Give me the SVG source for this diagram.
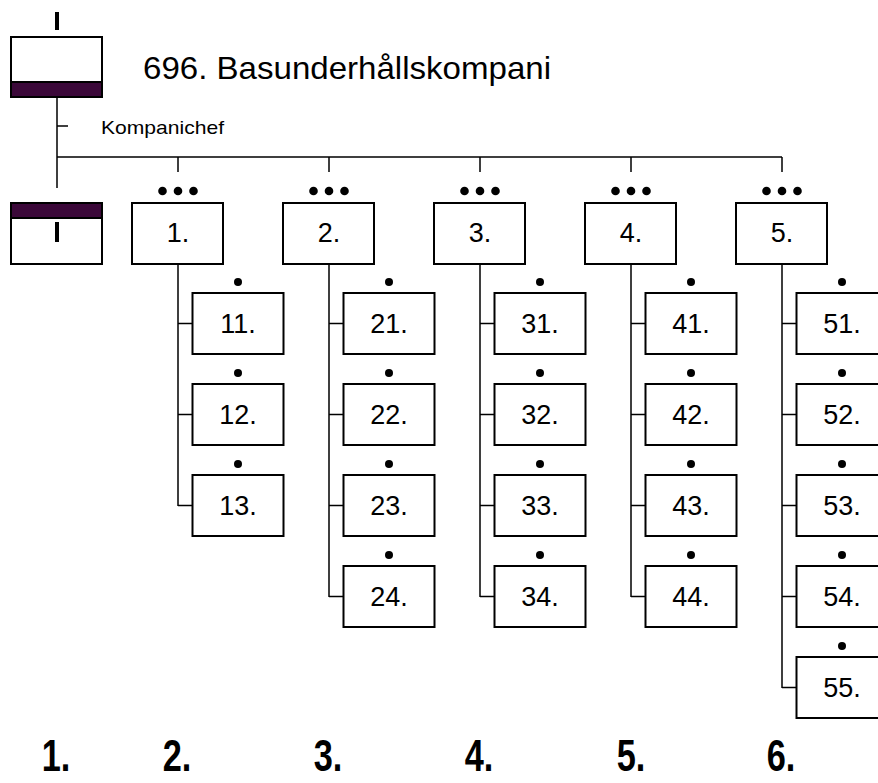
<svg xmlns="http://www.w3.org/2000/svg" width="878" height="783" viewBox="0 0 878 783">
<style>
.box{fill:#fff;stroke:#000;stroke-width:2}
.band{fill:#3b0839;stroke:#000;stroke-width:2}
.ln{stroke:#000;stroke-width:1.5;fill:none}
.lbl{font-family:"Liberation Sans",Arial,sans-serif;font-size:27px;text-anchor:middle;fill:#000}
.big{font-family:"Liberation Sans",Arial,sans-serif;font-weight:bold;font-size:44px;text-anchor:middle;fill:#000}
.dot{fill:#000}
</style>
<rect width="878" height="783" fill="#fff"/>
<g id="connectors">
<path class="ln" d="M57 97V188M57 126H68M57 157H782M178 157V172M329 157V172M480 157V172M631 157V172M782 157V172"/>
<path class="ln" d="M178 264V506M178 323.5H192.5M178 414.5H192.5M178 505.5H192.5"/>
<path class="ln" d="M329 264V597M329 323.5H343.5M329 414.5H343.5M329 505.5H343.5M329 596.5H343.5"/>
<path class="ln" d="M480 264V597M480 323.5H494.5M480 414.5H494.5M480 505.5H494.5M480 596.5H494.5"/>
<path class="ln" d="M631 264V597M631 323.5H645.5M631 414.5H645.5M631 505.5H645.5M631 596.5H645.5"/>
<path class="ln" d="M782 264V688M782 323.5H796.5M782 414.5H796.5M782 505.5H796.5M782 596.5H796.5M782 687.5H796.5"/>
</g>
<g id="hq">
<rect x="55" y="12" width="4" height="18" fill="#000"/>
<rect class="box" x="11" y="37" width="91" height="60"/>
<rect class="band" x="11" y="82" width="91" height="15"/>
<text x="143" y="79" font-family="Liberation Sans,Arial,sans-serif" font-size="32" textLength="408" lengthAdjust="spacingAndGlyphs">696. Basunderhållskompani</text>
<text x="101" y="134" font-family="Liberation Sans,Arial,sans-serif" font-size="19" textLength="123" lengthAdjust="spacingAndGlyphs">Kompanichef</text>
</g>
<g id="stab">
<rect class="box" x="11" y="203" width="91" height="61"/>
<rect class="band" x="11" y="203" width="91" height="15"/>
<rect x="55" y="222" width="4" height="20" fill="#000"/>
</g>
<g id="pl1">
<circle class="dot" cx="162.5" cy="191" r="4.3"/><circle class="dot" cx="178" cy="191" r="4.3"/><circle class="dot" cx="193.5" cy="191" r="4.3"/>
<rect class="box" x="132" y="203" width="91" height="61"/><text class="lbl" x="178" y="242">1.</text>
</g>
<g id="pl2">
<circle class="dot" cx="313.5" cy="191" r="4.3"/><circle class="dot" cx="329" cy="191" r="4.3"/><circle class="dot" cx="344.5" cy="191" r="4.3"/>
<rect class="box" x="283" y="203" width="91" height="61"/><text class="lbl" x="329" y="242">2.</text>
</g>
<g id="pl3">
<circle class="dot" cx="464.5" cy="191" r="4.3"/><circle class="dot" cx="480" cy="191" r="4.3"/><circle class="dot" cx="495.5" cy="191" r="4.3"/>
<rect class="box" x="434" y="203" width="91" height="61"/><text class="lbl" x="480" y="242">3.</text>
</g>
<g id="pl4">
<circle class="dot" cx="615.5" cy="191" r="4.3"/><circle class="dot" cx="631" cy="191" r="4.3"/><circle class="dot" cx="646.5" cy="191" r="4.3"/>
<rect class="box" x="585" y="203" width="91" height="61"/><text class="lbl" x="631" y="242">4.</text>
</g>
<g id="pl5">
<circle class="dot" cx="766.5" cy="191" r="4.3"/><circle class="dot" cx="782" cy="191" r="4.3"/><circle class="dot" cx="797.5" cy="191" r="4.3"/>
<rect class="box" x="736" y="203" width="91" height="61"/><text class="lbl" x="782" y="242">5.</text>
</g>
<g id="g11"><circle class="dot" cx="238" cy="282" r="4"/><rect class="box" x="192.5" y="293" width="91" height="61"/><text class="lbl" x="238" y="333">11.</text></g>
<g id="g12"><circle class="dot" cx="238" cy="373" r="4"/><rect class="box" x="192.5" y="384" width="91" height="61"/><text class="lbl" x="238" y="424">12.</text></g>
<g id="g13"><circle class="dot" cx="238" cy="464" r="4"/><rect class="box" x="192.5" y="475" width="91" height="61"/><text class="lbl" x="238" y="515">13.</text></g>
<g id="g21"><circle class="dot" cx="389" cy="282" r="4"/><rect class="box" x="343.5" y="293" width="91" height="61"/><text class="lbl" x="389" y="333">21.</text></g>
<g id="g22"><circle class="dot" cx="389" cy="373" r="4"/><rect class="box" x="343.5" y="384" width="91" height="61"/><text class="lbl" x="389" y="424">22.</text></g>
<g id="g23"><circle class="dot" cx="389" cy="464" r="4"/><rect class="box" x="343.5" y="475" width="91" height="61"/><text class="lbl" x="389" y="515">23.</text></g>
<g id="g24"><circle class="dot" cx="389" cy="555" r="4"/><rect class="box" x="343.5" y="566" width="91" height="61"/><text class="lbl" x="389" y="606">24.</text></g>
<g id="g31"><circle class="dot" cx="540" cy="282" r="4"/><rect class="box" x="494.5" y="293" width="91" height="61"/><text class="lbl" x="540" y="333">31.</text></g>
<g id="g32"><circle class="dot" cx="540" cy="373" r="4"/><rect class="box" x="494.5" y="384" width="91" height="61"/><text class="lbl" x="540" y="424">32.</text></g>
<g id="g33"><circle class="dot" cx="540" cy="464" r="4"/><rect class="box" x="494.5" y="475" width="91" height="61"/><text class="lbl" x="540" y="515">33.</text></g>
<g id="g34"><circle class="dot" cx="540" cy="555" r="4"/><rect class="box" x="494.5" y="566" width="91" height="61"/><text class="lbl" x="540" y="606">34.</text></g>
<g id="g41"><circle class="dot" cx="691" cy="282" r="4"/><rect class="box" x="645.5" y="293" width="91" height="61"/><text class="lbl" x="691" y="333">41.</text></g>
<g id="g42"><circle class="dot" cx="691" cy="373" r="4"/><rect class="box" x="645.5" y="384" width="91" height="61"/><text class="lbl" x="691" y="424">42.</text></g>
<g id="g43"><circle class="dot" cx="691" cy="464" r="4"/><rect class="box" x="645.5" y="475" width="91" height="61"/><text class="lbl" x="691" y="515">43.</text></g>
<g id="g44"><circle class="dot" cx="691" cy="555" r="4"/><rect class="box" x="645.5" y="566" width="91" height="61"/><text class="lbl" x="691" y="606">44.</text></g>
<g id="g51"><circle class="dot" cx="842" cy="282" r="4"/><rect class="box" x="796.5" y="293" width="91" height="61"/><text class="lbl" x="842" y="333">51.</text></g>
<g id="g52"><circle class="dot" cx="842" cy="373" r="4"/><rect class="box" x="796.5" y="384" width="91" height="61"/><text class="lbl" x="842" y="424">52.</text></g>
<g id="g53"><circle class="dot" cx="842" cy="464" r="4"/><rect class="box" x="796.5" y="475" width="91" height="61"/><text class="lbl" x="842" y="515">53.</text></g>
<g id="g54"><circle class="dot" cx="842" cy="555" r="4"/><rect class="box" x="796.5" y="566" width="91" height="61"/><text class="lbl" x="842" y="606">54.</text></g>
<g id="g55"><circle class="dot" cx="842" cy="646" r="4"/><rect class="box" x="796.5" y="657" width="91" height="61"/><text class="lbl" x="842" y="697">55.</text></g>
<g id="footer">
<text class="big" transform="translate(56 771) scale(0.78 1)">1.</text>
<text class="big" transform="translate(177 771) scale(0.78 1)">2.</text>
<text class="big" transform="translate(328 771) scale(0.78 1)">3.</text>
<text class="big" transform="translate(479 771) scale(0.78 1)">4.</text>
<text class="big" transform="translate(631 771) scale(0.78 1)">5.</text>
<text class="big" transform="translate(781 771) scale(0.78 1)">6.</text>
</g>
</svg>
